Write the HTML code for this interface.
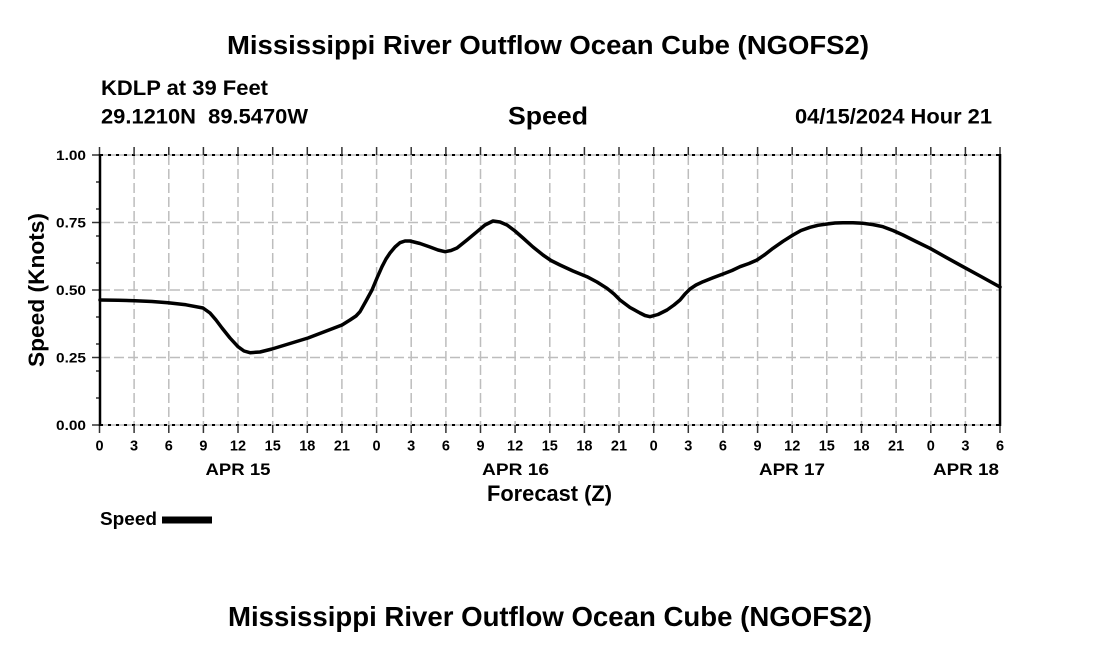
<!DOCTYPE html>
<html>
<head>
<meta charset="utf-8">
<style>
  html, body { margin: 0; padding: 0; background: #ffffff; }
  body { width: 1100px; height: 650px; overflow: hidden; }
  svg { display: block; }
  text { font-family: "Liberation Sans", Arial, sans-serif; font-weight: bold; fill: #000; }
</style>
</head>
<body>
<svg width="1100" height="650" viewBox="0 0 1100 650" xmlns="http://www.w3.org/2000/svg">
  <rect x="0" y="0" width="1100" height="650" fill="#ffffff"/>

  <!-- Titles -->
  <text x="548" y="54" font-size="25.5" text-anchor="middle" textLength="642" lengthAdjust="spacingAndGlyphs">Mississippi River Outflow Ocean Cube (NGOFS2)</text>
  <text x="101" y="95" font-size="21" textLength="167" lengthAdjust="spacingAndGlyphs">KDLP at 39 Feet</text>
  <text x="101" y="123.5" font-size="21" textLength="207" lengthAdjust="spacingAndGlyphs" style="white-space:pre" xml:space="preserve">29.1210N  89.5470W</text>
  <text x="548" y="124.5" font-size="25" text-anchor="middle" textLength="80" lengthAdjust="spacingAndGlyphs">Speed</text>
  <text x="795" y="123.5" font-size="21" textLength="197" lengthAdjust="spacingAndGlyphs">04/15/2024 Hour 21</text>

  <!-- Horizontal gridlines -->
  <g stroke="#bdbdbd" stroke-width="1.5" stroke-dasharray="10,4" fill="none">
    <line x1="100" y1="222.5" x2="1000" y2="222.5"/>
    <line x1="100" y1="290" x2="1000" y2="290"/>
    <line x1="100" y1="357.5" x2="1000" y2="357.5"/>
  </g>
  <!-- Vertical gridlines -->
  <g stroke="#bdbdbd" stroke-width="1.5" stroke-dasharray="10,4" fill="none">
    <line x1="134.1" y1="155" x2="134.1" y2="425"/>
    <line x1="168.8" y1="155" x2="168.8" y2="425"/>
    <line x1="203.4" y1="155" x2="203.4" y2="425"/>
    <line x1="238.0" y1="155" x2="238.0" y2="425"/>
    <line x1="272.7" y1="155" x2="272.7" y2="425"/>
    <line x1="307.3" y1="155" x2="307.3" y2="425"/>
    <line x1="341.9" y1="155" x2="341.9" y2="425"/>
    <line x1="376.6" y1="155" x2="376.6" y2="425"/>
    <line x1="411.2" y1="155" x2="411.2" y2="425"/>
    <line x1="445.9" y1="155" x2="445.9" y2="425"/>
    <line x1="480.5" y1="155" x2="480.5" y2="425"/>
    <line x1="515.1" y1="155" x2="515.1" y2="425"/>
    <line x1="549.8" y1="155" x2="549.8" y2="425"/>
    <line x1="584.4" y1="155" x2="584.4" y2="425"/>
    <line x1="619.0" y1="155" x2="619.0" y2="425"/>
    <line x1="653.7" y1="155" x2="653.7" y2="425"/>
    <line x1="688.3" y1="155" x2="688.3" y2="425"/>
    <line x1="722.9" y1="155" x2="722.9" y2="425"/>
    <line x1="757.6" y1="155" x2="757.6" y2="425"/>
    <line x1="792.2" y1="155" x2="792.2" y2="425"/>
    <line x1="826.8" y1="155" x2="826.8" y2="425"/>
    <line x1="861.5" y1="155" x2="861.5" y2="425"/>
    <line x1="896.1" y1="155" x2="896.1" y2="425"/>
    <line x1="930.8" y1="155" x2="930.8" y2="425"/>
    <line x1="965.4" y1="155" x2="965.4" y2="425"/>
  </g>

  <!-- Top and bottom dotted borders -->
  <g fill="none">
    <line x1="100" y1="155" x2="1000" y2="155" stroke="#bdbdbd" stroke-width="1.5"/>
    <line x1="100" y1="425" x2="1000" y2="425" stroke="#bdbdbd" stroke-width="1.5"/>
    <line x1="100" y1="155" x2="1000" y2="155" stroke="#000" stroke-width="2" stroke-dasharray="3,5"/>
    <line x1="100" y1="425" x2="1000" y2="425" stroke="#000" stroke-width="2" stroke-dasharray="3,5"/>
  </g>

  <!-- X ticks top & bottom -->
  <g stroke="#333" stroke-width="1.5">
    <line x1="99.5" y1="147" x2="99.5" y2="155"/><line x1="99.5" y1="425" x2="99.5" y2="433"/>
    <line x1="134.1" y1="147" x2="134.1" y2="155"/><line x1="134.1" y1="425" x2="134.1" y2="433"/>
    <line x1="168.8" y1="147" x2="168.8" y2="155"/><line x1="168.8" y1="425" x2="168.8" y2="433"/>
    <line x1="203.4" y1="147" x2="203.4" y2="155"/><line x1="203.4" y1="425" x2="203.4" y2="433"/>
    <line x1="238.0" y1="147" x2="238.0" y2="155"/><line x1="238.0" y1="425" x2="238.0" y2="433"/>
    <line x1="272.7" y1="147" x2="272.7" y2="155"/><line x1="272.7" y1="425" x2="272.7" y2="433"/>
    <line x1="307.3" y1="147" x2="307.3" y2="155"/><line x1="307.3" y1="425" x2="307.3" y2="433"/>
    <line x1="341.9" y1="147" x2="341.9" y2="155"/><line x1="341.9" y1="425" x2="341.9" y2="433"/>
    <line x1="376.6" y1="147" x2="376.6" y2="155"/><line x1="376.6" y1="425" x2="376.6" y2="433"/>
    <line x1="411.2" y1="147" x2="411.2" y2="155"/><line x1="411.2" y1="425" x2="411.2" y2="433"/>
    <line x1="445.9" y1="147" x2="445.9" y2="155"/><line x1="445.9" y1="425" x2="445.9" y2="433"/>
    <line x1="480.5" y1="147" x2="480.5" y2="155"/><line x1="480.5" y1="425" x2="480.5" y2="433"/>
    <line x1="515.1" y1="147" x2="515.1" y2="155"/><line x1="515.1" y1="425" x2="515.1" y2="433"/>
    <line x1="549.8" y1="147" x2="549.8" y2="155"/><line x1="549.8" y1="425" x2="549.8" y2="433"/>
    <line x1="584.4" y1="147" x2="584.4" y2="155"/><line x1="584.4" y1="425" x2="584.4" y2="433"/>
    <line x1="619.0" y1="147" x2="619.0" y2="155"/><line x1="619.0" y1="425" x2="619.0" y2="433"/>
    <line x1="653.7" y1="147" x2="653.7" y2="155"/><line x1="653.7" y1="425" x2="653.7" y2="433"/>
    <line x1="688.3" y1="147" x2="688.3" y2="155"/><line x1="688.3" y1="425" x2="688.3" y2="433"/>
    <line x1="722.9" y1="147" x2="722.9" y2="155"/><line x1="722.9" y1="425" x2="722.9" y2="433"/>
    <line x1="757.6" y1="147" x2="757.6" y2="155"/><line x1="757.6" y1="425" x2="757.6" y2="433"/>
    <line x1="792.2" y1="147" x2="792.2" y2="155"/><line x1="792.2" y1="425" x2="792.2" y2="433"/>
    <line x1="826.8" y1="147" x2="826.8" y2="155"/><line x1="826.8" y1="425" x2="826.8" y2="433"/>
    <line x1="861.5" y1="147" x2="861.5" y2="155"/><line x1="861.5" y1="425" x2="861.5" y2="433"/>
    <line x1="896.1" y1="147" x2="896.1" y2="155"/><line x1="896.1" y1="425" x2="896.1" y2="433"/>
    <line x1="930.8" y1="147" x2="930.8" y2="155"/><line x1="930.8" y1="425" x2="930.8" y2="433"/>
    <line x1="965.4" y1="147" x2="965.4" y2="155"/><line x1="965.4" y1="425" x2="965.4" y2="433"/>
    <line x1="1000" y1="147" x2="1000" y2="155"/><line x1="1000" y1="425" x2="1000" y2="433"/>
  </g>

  <!-- Y ticks -->
  <g stroke="#333" stroke-width="1.5">
    <line x1="92" y1="155" x2="100" y2="155"/>
    <line x1="92" y1="222.5" x2="100" y2="222.5"/>
    <line x1="92" y1="290" x2="100" y2="290"/>
    <line x1="92" y1="357.5" x2="100" y2="357.5"/>
    <line x1="92" y1="425" x2="100" y2="425"/>
    <line x1="96" y1="182" x2="100" y2="182"/>
    <line x1="96" y1="209" x2="100" y2="209"/>
    <line x1="96" y1="236" x2="100" y2="236"/>
    <line x1="96" y1="263" x2="100" y2="263"/>
    <line x1="96" y1="317" x2="100" y2="317"/>
    <line x1="96" y1="344" x2="100" y2="344"/>
    <line x1="96" y1="371" x2="100" y2="371"/>
    <line x1="96" y1="398" x2="100" y2="398"/>
  </g>

  <!-- Left & right axes -->
  <line x1="100" y1="154" x2="100" y2="426" stroke="#000" stroke-width="2.5"/>
  <line x1="1000" y1="154" x2="1000" y2="426" stroke="#000" stroke-width="2.5"/>

  <!-- Y tick labels -->
  <g font-size="13.5" text-anchor="end">
    <text x="86" y="160" textLength="30" lengthAdjust="spacingAndGlyphs">1.00</text>
    <text x="86" y="227.5" textLength="30" lengthAdjust="spacingAndGlyphs">0.75</text>
    <text x="86" y="295" textLength="30" lengthAdjust="spacingAndGlyphs">0.50</text>
    <text x="86" y="362.5" textLength="30" lengthAdjust="spacingAndGlyphs">0.25</text>
    <text x="86" y="430" textLength="30" lengthAdjust="spacingAndGlyphs">0.00</text>
  </g>

  <!-- X tick labels -->
  <g font-size="14.5" text-anchor="middle">
    <text x="99.5" y="450.5">0</text>
    <text x="134.1" y="450.5">3</text>
    <text x="168.8" y="450.5">6</text>
    <text x="203.4" y="450.5">9</text>
    <text x="238.0" y="450.5">12</text>
    <text x="272.7" y="450.5">15</text>
    <text x="307.3" y="450.5">18</text>
    <text x="341.9" y="450.5">21</text>
    <text x="376.6" y="450.5">0</text>
    <text x="411.2" y="450.5">3</text>
    <text x="445.9" y="450.5">6</text>
    <text x="480.5" y="450.5">9</text>
    <text x="515.1" y="450.5">12</text>
    <text x="549.8" y="450.5">15</text>
    <text x="584.4" y="450.5">18</text>
    <text x="619.0" y="450.5">21</text>
    <text x="653.7" y="450.5">0</text>
    <text x="688.3" y="450.5">3</text>
    <text x="722.9" y="450.5">6</text>
    <text x="757.6" y="450.5">9</text>
    <text x="792.2" y="450.5">12</text>
    <text x="826.8" y="450.5">15</text>
    <text x="861.5" y="450.5">18</text>
    <text x="896.1" y="450.5">21</text>
    <text x="930.8" y="450.5">0</text>
    <text x="965.4" y="450.5">3</text>
    <text x="1000" y="450.5">6</text>
  </g>

  <!-- Day labels -->
  <g font-size="17">
    <text x="238" y="475" text-anchor="middle" textLength="65" lengthAdjust="spacingAndGlyphs">APR 15</text>
    <text x="515.5" y="475" text-anchor="middle" textLength="67" lengthAdjust="spacingAndGlyphs">APR 16</text>
    <text x="792" y="475" text-anchor="middle" textLength="66" lengthAdjust="spacingAndGlyphs">APR 17</text>
    <text x="999" y="475" text-anchor="end" textLength="66" lengthAdjust="spacingAndGlyphs">APR 18</text>
  </g>

  <!-- Axis titles -->
  <text x="549.5" y="501" font-size="22" text-anchor="middle" textLength="125" lengthAdjust="spacingAndGlyphs">Forecast (Z)</text>
  <text transform="translate(44,290) rotate(-90)" x="0" y="0" font-size="22" text-anchor="middle" textLength="154" lengthAdjust="spacingAndGlyphs">Speed (Knots)</text>

  <!-- Data series -->
  <polyline fill="none" stroke="#000" stroke-width="3.5" stroke-linejoin="round" stroke-linecap="round"
    points="100,300 118,300.3 135,300.7 152,301.5 168,302.7 186,304.8 203,308 210,313 216,320 222,328 230,338 238,346.7 244,351 250,352.7 260,352 272,349 290,343.5 308,338 325,331.5 342,325 350,320 356,316 360,311.7 366,301 372,290 377,278 382,266.7 386,259 390,253 395,247 400,242.7 405,241 410,241 420,243.5 430,247 438,250 445,251.7 451,250.5 457,248 467,240 477,231.7 485,225 493,221 500,222 507,225 515,231 523,238 533,247 543,255 551,260.5 560,265 573,271 587,276.7 597,282 607,288.3 614,294 620,300 630,307.5 640,313 645,315.5 650,316.7 658,314.5 667,310 674,305 680,300 685,294 690,289 696,285 703,281.7 713,277.8 723,274 732,270.5 740,266.7 749,263.5 757,260 765,254.5 773,248.3 783,241.3 793,235 801,230.5 810,227.3 818,225.3 827,224 835,223 843,222.7 853,222.7 863,223.3 873,224.6 883,226.7 893,230.5 903,235 916,241.5 930,248.3 946,257.3 963,266.7 981,276.5 1000,287"/>

  <!-- Legend -->
  <text x="100" y="525" font-size="18" textLength="57" lengthAdjust="spacingAndGlyphs">Speed</text>
  <rect x="162" y="516.5" width="50" height="7" fill="#000"/>

  <!-- Bottom title -->
  <text x="550" y="626" font-size="28" text-anchor="middle" textLength="644" lengthAdjust="spacingAndGlyphs">Mississippi River Outflow Ocean Cube (NGOFS2)</text>
</svg>
</body>
</html>
